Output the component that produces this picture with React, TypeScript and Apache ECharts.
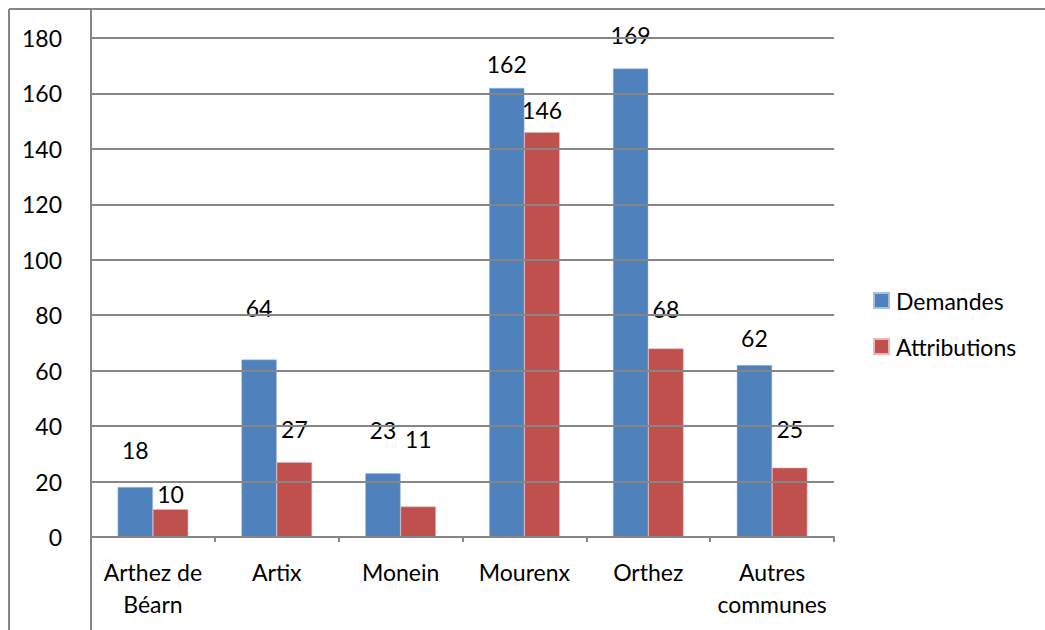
import React, { useEffect, useRef } from "react";
import * as echarts from "echarts";

const categories = ["Arthez de\nBéarn", "Artix", "Monein", "Mourenx", "Orthez", "Autres\ncommunes"];
const demandes = [18, 64, 23, 162, 169, 62];
const attributions = [10, 27, 11, 146, 68, 25];
const yTicks = { min: 0, max: 180, interval: 20 };
// label offsets above each bar (styling only)
const demandesLabelGap = [26, 40, 32, 12, 22, 16];
const attributionsLabelGap = [4, 22, 56, 11, 28, 27];

const FONT = "Lato";
const FS = 23;
const GRAY = "#868686";

export default function App() {
  const ref = useRef<HTMLDivElement>(null);
  useEffect(() => {
    const chart = echarts.init(ref.current!, null, { renderer: "svg" });
    const mk = (vals: number[], gaps: number[]) =>
      vals.map((v, i) => ({ value: v, label: { distance: gaps[i] } }));
    chart.setOption({
      animation: false,
      textStyle: { fontFamily: FONT },
      grid: { left: 91, right: 211, top: 38, bottom: 93, containLabel: false },
      legend: {
        orient: "vertical",
        left: 868,
        top: 284,
        itemWidth: 15,
        itemHeight: 15,
        itemGap: 23,
        icon: "rect",
        textStyle: { fontFamily: FONT, fontSize: FS, color: "#000", padding: [0, 0, 0, 2] },
        data: ["Demandes", "Attributions"],
      },
      xAxis: {
        type: "category",
        data: categories,
        axisLine: { lineStyle: { color: GRAY, width: 2 } },
        axisTick: { show: true, length: 5, lineStyle: { color: GRAY, width: 2 } },
        axisLabel: { fontFamily: FONT, fontSize: FS, color: "#000", lineHeight: 32, margin: 19, interval: 0 },
      },
      yAxis: {
        type: "value",
        min: yTicks.min,
        max: yTicks.max,
        interval: yTicks.interval,
        z: 5,
        axisLine: { show: false },
        axisTick: { show: false },
        splitLine: { lineStyle: { color: GRAY, width: 2 } },
        axisLabel: { fontFamily: FONT, fontSize: FS, color: "#000", margin: 29, padding: [4, 0, 0, 0] },
      },
      graphic: [
        { type: "line", shape: { x1: 9, y1: 9, x2: 1045, y2: 9 }, style: { stroke: GRAY, lineWidth: 2 } },
        { type: "line", shape: { x1: 9, y1: 9, x2: 9, y2: 630 }, style: { stroke: GRAY, lineWidth: 2 } },
        { type: "line", shape: { x1: 91, y1: 9, x2: 91, y2: 630 }, style: { stroke: GRAY, lineWidth: 2 } },
      ],
      series: [
        {
          name: "Demandes",
          type: "bar",
          data: mk(demandes, demandesLabelGap),
          barGap: "0%",
          barCategoryGap: "43%",
          itemStyle: { color: "#4F81BD", borderColor: "#A7BFDE", borderWidth: 0.5 },
          label: { show: true, position: "top", fontFamily: FONT, fontSize: FS, color: "#000" },
        },
        {
          name: "Attributions",
          type: "bar",
          data: mk(attributions, attributionsLabelGap),
          barGap: "0%",
          barCategoryGap: "43%",
          itemStyle: { color: "#C0504D", borderColor: "#E6B9B8", borderWidth: 0.5 },
          label: { show: true, position: "top", fontFamily: FONT, fontSize: FS, color: "#000" },
        },
      ],
    });
    return () => chart.dispose();
  }, []);
  return (
    <div
      ref={ref}
      style={{ position: "fixed", left: 0, top: 0, width: 1045, height: 630, background: "#fff" }}
    />
  );
}
